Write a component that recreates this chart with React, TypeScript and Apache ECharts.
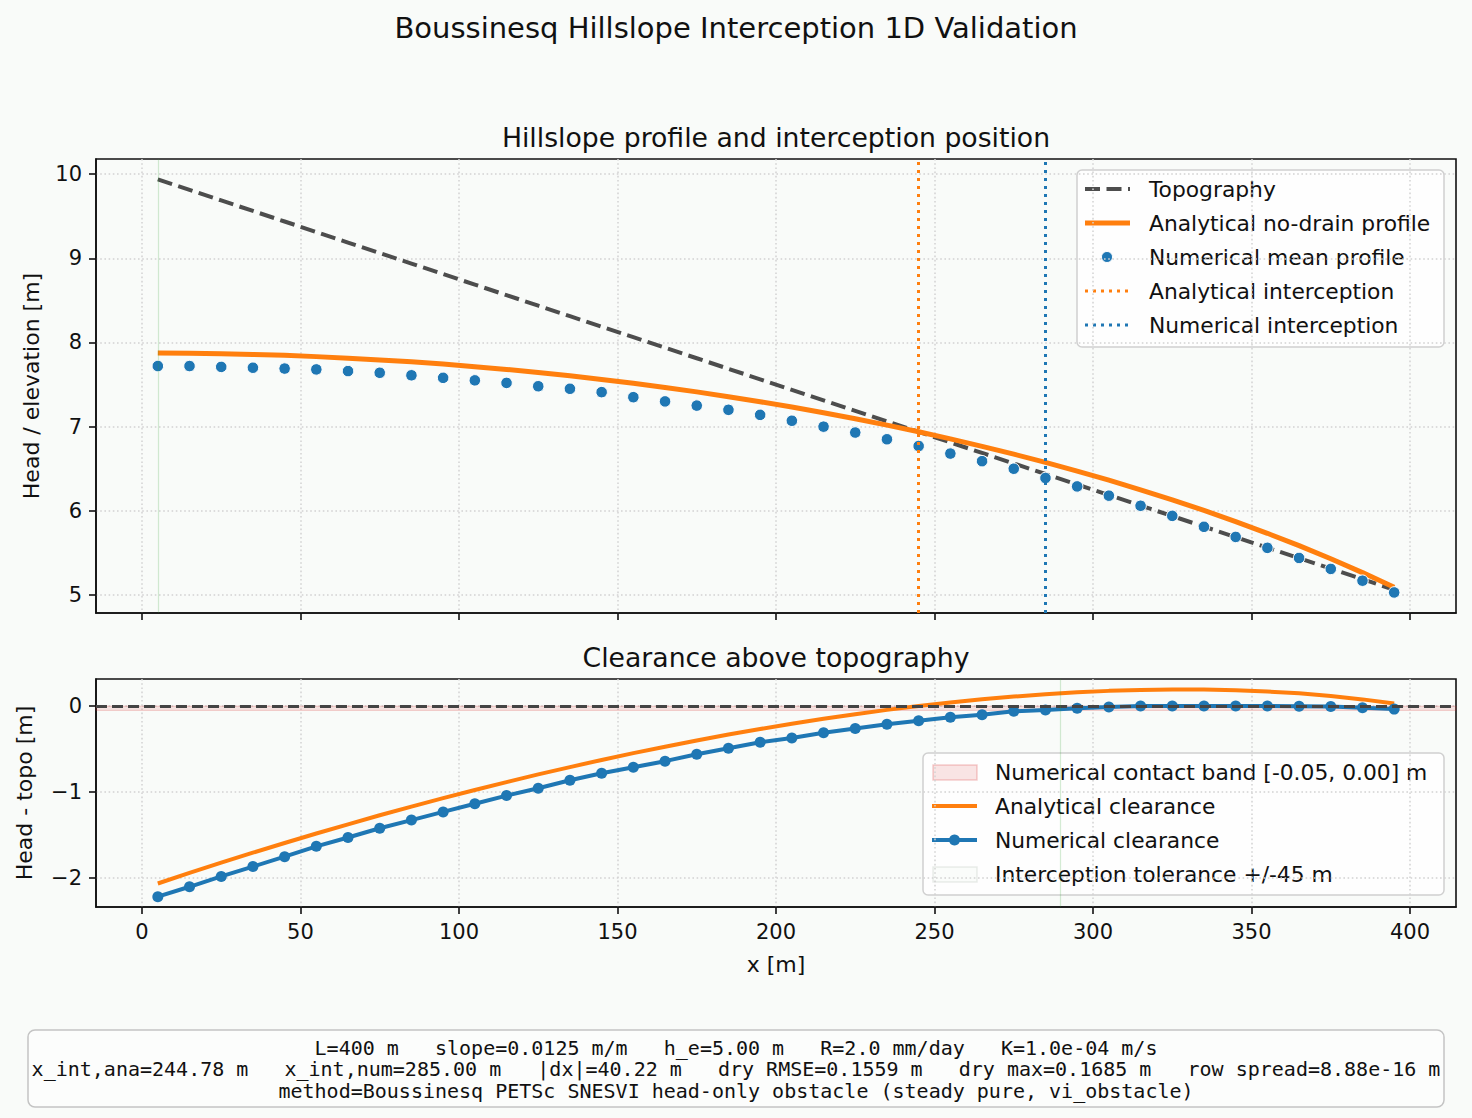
import React, { useEffect, useRef } from "react";
import * as echarts from "echarts";

// ---------- data ----------
const xs = [5, 15, 25, 35, 45, 55, 65, 75, 85, 95, 105, 115, 125, 135, 145, 155, 165, 175, 185, 195,
  205, 215, 225, 235, 245, 255, 265, 275, 285, 295, 305, 315, 325, 335, 345, 355, 365, 375, 385, 395];

const topography = [9.9375, 9.8125, 9.6875, 9.5625, 9.4375, 9.3125, 9.1875, 9.0625, 8.9375, 8.8125,
  8.6875, 8.5625, 8.4375, 8.3125, 8.1875, 8.0625, 7.9375, 7.8125, 7.6875, 7.5625,
  7.4375, 7.3125, 7.1875, 7.0625, 6.9375, 6.8125, 6.6875, 6.5625, 6.4375, 6.3125,
  6.1875, 6.0625, 5.9375, 5.8125, 5.6875, 5.5625, 5.4375, 5.3125, 5.1875, 5.0625];

const analyticalHead = [7.876, 7.873, 7.867, 7.858, 7.847, 7.832, 7.814, 7.793, 7.770, 7.743,
  7.713, 7.680, 7.643, 7.604, 7.561, 7.515, 7.466, 7.413, 7.356, 7.296,
  7.233, 7.165, 7.094, 7.018, 6.939, 6.855, 6.766, 6.673, 6.575, 6.472,
  6.364, 6.250, 6.131, 6.005, 5.872, 5.733, 5.586, 5.430, 5.266, 5.091];

const numericalHead = [7.72, 7.72, 7.71, 7.70, 7.69, 7.68, 7.66, 7.64, 7.61, 7.58,
  7.55, 7.52, 7.48, 7.45, 7.41, 7.35, 7.30, 7.25, 7.20, 7.14,
  7.07, 7.00, 6.93, 6.85, 6.77, 6.68, 6.59, 6.50, 6.39, 6.29,
  6.18, 6.06, 5.94, 5.81, 5.69, 5.56, 5.44, 5.31, 5.17, 5.03];

const analyticalClearance = [-2.062, -1.939, -1.820, -1.704, -1.591, -1.481, -1.374, -1.269, -1.168, -1.070,
  -0.975, -0.883, -0.794, -0.709, -0.626, -0.547, -0.472, -0.400, -0.331, -0.266,
  -0.205, -0.148, -0.094, -0.044, 0.001, 0.042, 0.079, 0.111, 0.138, 0.160,
  0.177, 0.188, 0.193, 0.192, 0.185, 0.170, 0.148, 0.118, 0.078, 0.029];

const numericalClearance = [-2.215, -2.10, -1.98, -1.865, -1.75, -1.63, -1.527, -1.42, -1.325, -1.23,
  -1.135, -1.04, -0.955, -0.862, -0.78, -0.71, -0.64, -0.56, -0.49, -0.42,
  -0.37, -0.31, -0.26, -0.21, -0.17, -0.13, -0.10, -0.06, -0.045, -0.025,
  -0.01, 0.0, 0.0, 0.0, 0.0, 0.0, -0.002, -0.005, -0.02, -0.035];

const xInterceptAnalytical = 244.78;
const xInterceptNumerical = 285.0;
const contactBand = [-0.05, 0.0];
const toleranceEdge = 289.78;
const topPanelEdge = 5;

const xTicks = [0, 50, 100, 150, 200, 250, 300, 350, 400];
const yTicksTop = [5, 6, 7, 8, 9, 10];
const yTicksBottom = [-2, -1, 0];

const suptitle = "Boussinesq Hillslope Interception 1D Validation";
const title1 = "Hillslope profile and interception position";
const title2 = "Clearance above topography";
const legendTop = ["Topography", "Analytical no-drain profile", "Numerical mean profile", "Analytical interception", "Numerical interception"];
const legendBottom = ["Numerical contact band [-0.05, 0.00] m", "Analytical clearance", "Numerical clearance", "Interception tolerance +/-45 m"];
const infoLines = [
  "L=400 m   slope=0.0125 m/m   h_e=5.00 m   R=2.0 mm/day   K=1.0e-04 m/s",
  "x_int,ana=244.78 m   x_int,num=285.00 m   |dx|=40.22 m   dry RMSE=0.1559 m   dry max=0.1685 m   row spread=8.88e-16 m",
  "method=Boussinesq PETSc SNESVI head-only obstacle (steady pure, vi_obstacle)",
];

// ---------- styles ----------
const BG = "#f9fbf9";
const FONT = '"DejaVu Sans", sans-serif';
const MONO = '"DejaVu Sans Mono", monospace';
const INK = "#111111";
const ORANGE = "#ff7f0e";
const BLUE = "#1f77b4";
const TOPO = "#4d4d4d";
const LEG = 21.8;
const NAME = 22;
const TICK = 21;

const pair = (arr: number[]) => xs.map((x, i) => [x, arr[i]]);
const minus = (v: number) => String(v).replace("-", "\u2212");

const gridLine = { show: true, lineStyle: { color: "#d2d2d2", width: 1.5, type: [1.6, 2.6] as any } };
const axisLine = { show: true, onZero: false, lineStyle: { color: INK, width: 1.6 } };
const tickStyle = (vals: number[]) => ({ show: true, inside: false, length: 7, customValues: vals, lineStyle: { color: INK, width: 1.6 } });
const labelStyle = (vals: number[], show = true) => ({
  show, customValues: vals, margin: 14, fontSize: TICK, color: INK, fontFamily: FONT,
  formatter: (v: number) => minus(v),
});

function txt(text: string, x: number, y: number, size: number, align = "center", family = FONT, lineHeight?: number) {
  return {
    type: "text", x, y, silent: true,
    style: { text, fill: INK, font: `${size}px ${family}`, fontSize: size, fontFamily: family,
      lineHeight, align, textAlign: align, verticalAlign: "middle", textVerticalAlign: "middle" },
  };
}
function hline(x1: number, x2: number, y: number, color: string, width: number, dash?: number[]) {
  return { type: "line", silent: true, shape: { x1, y1: y, x2, y2: y },
    style: { stroke: color, lineWidth: width, lineDash: dash, lineCap: "butt" } };
}

function buildGraphic() {
  const g: any[] = [];
  g.push(txt(suptitle, 736, 28, 29));
  g.push(txt(title1, 776, 137, 26.7));
  g.push(txt(title2, 776, 657, 26.7));

  // top legend
  g.push({ type: "rect", silent: true, shape: { x: 1077, y: 170, width: 367, height: 177, r: 5 },
    style: { fill: "rgba(255,255,255,0.8)", stroke: "#d0d0d0", lineWidth: 1.5 } });
  const ty = [189, 223, 257, 291, 325];
  g.push(hline(1085, 1130, ty[0], TOPO, 4, [15, 6.5]));
  g.push(hline(1085, 1130, ty[1], ORANGE, 5));
  g.push({ type: "circle", silent: true, shape: { cx: 1107, cy: ty[2], r: 5.5 }, style: { fill: BLUE, stroke: "#fff", lineWidth: 1 } });
  g.push(hline(1085, 1130, ty[3], ORANGE, 3, [3, 5]));
  g.push(hline(1085, 1130, ty[4], BLUE, 3, [3, 5]));
  legendTop.forEach((t, i) => g.push(txt(t, 1149, ty[i], LEG, "left")));

  // bottom legend
  g.push({ type: "rect", silent: true, shape: { x: 923, y: 753, width: 521, height: 142, r: 5 },
    style: { fill: "rgba(255,255,255,0.8)", stroke: "#d0d0d0", lineWidth: 1.5 } });
  const by = [772, 806, 840, 874];
  g.push({ type: "rect", silent: true, shape: { x: 933, y: by[0] - 7, width: 44, height: 15 },
    style: { fill: "rgba(214,39,40,0.12)", stroke: "rgba(214,39,40,0.22)", lineWidth: 1.5 } });
  g.push(hline(932, 977, by[1], ORANGE, 4));
  g.push(hline(932, 977, by[2], BLUE, 4));
  g.push({ type: "circle", silent: true, shape: { cx: 954.5, cy: by[2], r: 5.5 }, style: { fill: BLUE } });
  g.push({ type: "rect", silent: true, shape: { x: 933, y: by[3] - 7, width: 44, height: 15 },
    style: { fill: "rgba(44,160,44,0.02)", stroke: "rgba(120,140,120,0.15)", lineWidth: 1.5 } });
  legendBottom.forEach((t, i) => g.push(txt(t, 995, by[i], LEG, "left")));

  // info box
  g.push({ type: "rect", silent: true, shape: { x: 28, y: 1030, width: 1416, height: 77, r: 7 },
    style: { fill: "#fcfdfc", stroke: "#c4c4c4", lineWidth: 1.5 } });
  g.push(txt(infoLines.join("\n"), 736, 1069, 20, "center", MONO, 21.5));
  return g;
}

const vLine = (x: number, color: string, width: number, dash: any) => ({
  xAxis: x, lineStyle: { color, width, type: dash },
});

function buildOption(): any {
  return {
    animation: false,
    backgroundColor: BG,
    grid: [
      { left: 96, top: 159, width: 1360, height: 454, show: true, backgroundColor: BG, borderColor: INK, borderWidth: 1.6 },
      { left: 96, top: 679, width: 1360, height: 228, show: true, backgroundColor: BG, borderColor: INK, borderWidth: 1.6 },
    ],
    xAxis: [
      { gridIndex: 0, type: "value", min: -14.5, max: 414.5, axisLine, axisTick: tickStyle(xTicks),
        axisLabel: labelStyle(xTicks, false), splitLine: gridLine },
      { gridIndex: 1, type: "value", min: -14.5, max: 414.5, axisLine, axisTick: tickStyle(xTicks),
        axisLabel: labelStyle(xTicks), splitLine: gridLine,
        name: "x [m]", nameLocation: "middle", nameGap: 46,
        nameTextStyle: { fontSize: NAME, color: INK, fontFamily: FONT } },
    ],
    yAxis: [
      { gridIndex: 0, type: "value", min: 4.786, max: 10.18, axisLine, axisTick: tickStyle(yTicksTop),
        axisLabel: labelStyle(yTicksTop), splitLine: gridLine,
        name: "Head / elevation [m]", nameLocation: "middle", nameGap: 54, nameRotate: 90,
        nameTextStyle: { fontSize: NAME, color: INK, fontFamily: FONT } },
      { gridIndex: 1, type: "value", min: -2.335, max: 0.315, axisLine, axisTick: tickStyle(yTicksBottom),
        axisLabel: labelStyle(yTicksBottom), splitLine: gridLine,
        name: "Head - topo [m]", nameLocation: "middle", nameGap: 61, nameRotate: 90,
        nameTextStyle: { fontSize: NAME, color: INK, fontFamily: FONT } },
    ],
    series: [
      { name: "edge", type: "line", xAxisIndex: 0, yAxisIndex: 0, data: [], z: 1, silent: true,
        markLine: { symbol: ["none", "none"], silent: true, label: { show: false },
          data: [vLine(topPanelEdge, "rgba(44,160,44,0.2)", 1.2, "solid")] } },
      { name: "Topography", type: "line", xAxisIndex: 0, yAxisIndex: 0, data: pair(topography), z: 2,
        showSymbol: false, symbol: "none", lineStyle: { color: TOPO, width: 4, type: [15, 6.5] } },
      { name: "Analytical no-drain profile", type: "line", xAxisIndex: 0, yAxisIndex: 0, data: pair(analyticalHead), z: 3,
        showSymbol: false, symbol: "none", lineStyle: { color: ORANGE, width: 5 } },
      { name: "Numerical mean profile", type: "scatter", xAxisIndex: 0, yAxisIndex: 0, data: pair(numericalHead), z: 4,
        symbolSize: 11.5, itemStyle: { color: BLUE, borderColor: "#ffffff", borderWidth: 1, opacity: 1 } },
      { name: "interceptions", type: "line", xAxisIndex: 0, yAxisIndex: 0, data: [], z: 5, silent: true,
        markLine: { symbol: ["none", "none"], silent: true, label: { show: false },
          data: [vLine(xInterceptAnalytical, ORANGE, 3, [3, 5]), vLine(xInterceptNumerical, BLUE, 3, [3, 5])] } },

      { name: "zero", type: "line", xAxisIndex: 1, yAxisIndex: 1, data: [], z: 1, silent: true,
        markArea: { silent: true, itemStyle: { color: "rgba(214,39,40,0.12)", borderColor: "rgba(214,39,40,0.2)", borderWidth: 1 },
          data: [[{ yAxis: contactBand[0] }, { yAxis: contactBand[1] }]] },
        markLine: { symbol: ["none", "none"], silent: true, label: { show: false },
          data: [
            { yAxis: 0, lineStyle: { color: "#444444", width: 3, type: [11, 5] } },
            vLine(toleranceEdge, "rgba(44,160,44,0.2)", 1.2, "solid"),
          ] } },
      { name: "Analytical clearance", type: "line", xAxisIndex: 1, yAxisIndex: 1, data: pair(analyticalClearance), z: 3,
        showSymbol: false, symbol: "none", lineStyle: { color: ORANGE, width: 4 } },
      { name: "Numerical clearance", type: "line", xAxisIndex: 1, yAxisIndex: 1, data: pair(numericalClearance), z: 4,
        symbol: "circle", symbolSize: 11, showSymbol: true, itemStyle: { color: BLUE, opacity: 1 },
        lineStyle: { color: BLUE, width: 4 } },
    ],
    graphic: buildGraphic(),
  };
}

export default function App() {
  const ref = useRef<HTMLDivElement>(null);
  useEffect(() => {
    if (!ref.current) return;
    const chart = echarts.init(ref.current, null, { renderer: "svg" });
    chart.setOption(buildOption());
    return () => chart.dispose();
  }, []);
  return (
    <div
      ref={ref}
      style={{ position: "fixed", left: 0, top: 0, width: 1472, height: 1118, background: BG }}
    />
  );
}
